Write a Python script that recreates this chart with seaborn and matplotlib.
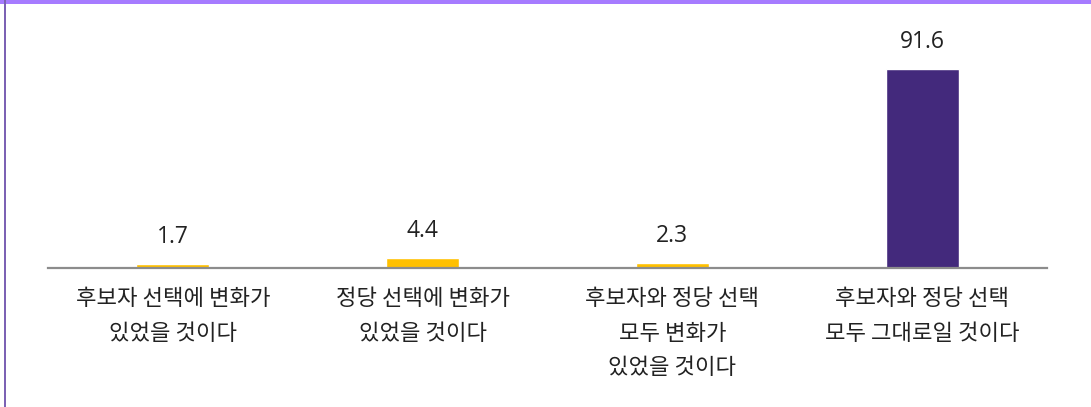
"""
Bar chart of perceived change in vote choice.
"""
import matplotlib
matplotlib.use("Agg")
import matplotlib.pyplot as plt
import seaborn as sns
import pandas as pd
from matplotlib.patches import Rectangle

categories = [
    "후보자 선택에 변화가\n있었을 것이다",
    "정당 선택에 변화가\n있었을 것이다",
    "후보자와 정당 선택\n모두 변화가\n있었을 것이다",
    "후보자와 정당 선택\n모두 그대로일 것이다",
]
values = [1.7, 4.4, 2.3, 91.6]
bar_colors = ["#FFC000", "#FFC000", "#FFC000", "#43297C"]

sns.set_theme(style="white")
plt.rcParams["font.family"] = ["Noto Sans CJK KR", "DejaVu Sans"]

df = pd.DataFrame({"category": categories, "value": values})

fig = plt.figure(figsize=(10.91, 4.07), dpi=100)
ax = fig.add_axes([0.044, 0.3415, 0.9157, 0.5332])

sns.barplot(
    data=df,
    x="category",
    y="value",
    hue="category",
    palette=bar_colors,
    saturation=1,
    width=0.292,
    legend=False,
    ax=ax,
)

# value labels above bars
for i, v in enumerate(values):
    ax.annotate(
        f"{v}",
        (i, v),
        xytext=(0, 19.5),
        textcoords="offset points",
        ha="center",
        va="center",
        fontsize=16.5,
        family=["Open Sans", "DejaVu Sans"],
        color="#222222",
    )

ax.set_xlim(-0.5, 3.5)
ax.set_ylim(0, 100)
ax.set_xlabel("")
ax.set_ylabel("")
ax.set_yticks([])
ax.tick_params(axis="x", length=0, pad=14, labelsize=16, colors="#222222")
for lbl in ax.get_xticklabels():
    lbl.set_linespacing(1.62)

for side in ["top", "right", "left"]:
    ax.spines[side].set_visible(False)
ax.spines["bottom"].set_color("#8c8c8c")
ax.spines["bottom"].set_linewidth(1.6)

# frame decoration: purple band on top, thin line on the left
fig.patches.append(Rectangle((0, 1 - 4 / 407), 1, 4 / 407, transform=fig.transFigure,
                             facecolor="#A67BFF", edgecolor="none"))
fig.patches.append(Rectangle((4 / 1091, 0), 2 / 1091, 1, transform=fig.transFigure,
                             facecolor="#7C62B4", edgecolor="none"))

fig.savefig("out.png", dpi=100)
